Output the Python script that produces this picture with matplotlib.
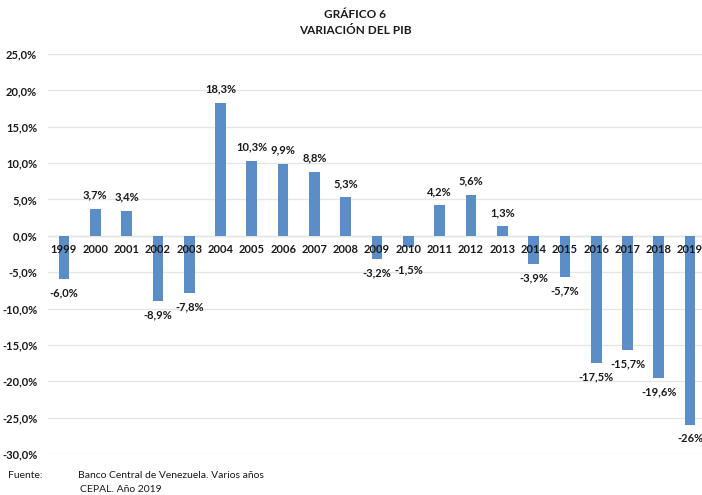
import matplotlib
matplotlib.use("Agg")
import matplotlib.pyplot as plt
from matplotlib.ticker import FuncFormatter

years = [str(y) for y in range(1999, 2020)]
values = [-6.0, 3.7, 3.4, -8.9, -7.8, 18.3, 10.3, 9.9, 8.8, 5.3, -3.2, -1.5,
          4.2, 5.6, 1.3, -3.9, -5.7, -17.5, -15.7, -19.6, -26.0]
labels = ["-6,0%", "3,7%", "3,4%", "-8,9%", "-7,8%", "18,3%", "10,3%", "9,9%",
          "8,8%", "5,3%", "-3,2%", "-1,5%", "4,2%", "5,6%", "1,3%", "-3,9%",
          "-5,7%", "-17,5%", "-15,7%", "-19,6%", "-26%"]
yticks = [25, 20, 15, 10, 5, 0, -5, -10, -15, -20, -25, -30]

plt.rcParams['font.family'] = ['Lato', 'DejaVu Sans']
txt = '#1a1a1a'

fig = plt.figure(figsize=(7.02, 4.95), dpi=100)
W, H = 702, 495
ax = fig.add_axes([48.3 / W, (H - 454) / H, (W - 48.3) / W, (454 - 54) / H])

x = list(range(len(years)))
ax.bar(x, values, width=0.34, color='#5B8DC6', zorder=3)
ax.set_xlim(-0.5, 20.38)
ax.set_ylim(-30, 25)
ax.set_yticks(yticks)
ax.yaxis.set_major_formatter(FuncFormatter(lambda v, p: f"{v:.1f}%".replace('.', ',')))
ax.grid(axis='y', color='#e6e6e6', lw=0.9, zorder=0)
ax.axhline(0, color='#d9d9d9', lw=1.0, zorder=1)
ax.set_xticks([])
for s in ax.spines.values():
    s.set_visible(False)
ax.tick_params(axis='y', length=0, pad=8, labelsize=8, labelcolor=txt)
for lab in ax.get_yticklabels():
    lab.set_fontweight('bold')

for i, (v, l) in enumerate(zip(values, labels)):
    ax.annotate(years[i], (i, 0), xytext=(0, -10), textcoords='offset points',
                ha='center', va='center', fontsize=8, fontweight='bold', color=txt, zorder=4)
    off = 10 if v > 0 else -10
    if v < 0 and v > -2:
        off = -17
    ax.annotate(l, (i, v), xytext=(0, off), textcoords='offset points',
                ha='center', va='center', fontsize=8, fontweight='bold', color=txt, zorder=4)

fig.text(355 / W, 1 - 14 / H, "GRÁFICO 6", ha='center', va='center', fontsize=8.5,
         fontweight='bold', color=txt)
fig.text(355 / W, 1 - 31 / H, "VARIACIÓN DEL PIB", ha='center', va='center', fontsize=8.5,
         fontweight='bold', color=txt)
fig.text(8 / W, 1 - 476 / H, "Fuente:", ha='left', va='center', fontsize=7.5, color=txt)
fig.text(78 / W, 1 - 476 / H, "Banco Central de Venezuela. Varios años", ha='left',
         va='center', fontsize=7.5, color=txt)
fig.text(80 / W, 1 - 490 / H, "CEPAL. Año 2019", ha='left', va='center', fontsize=7.5, color=txt)

fig.savefig("out.png", dpi=100)
